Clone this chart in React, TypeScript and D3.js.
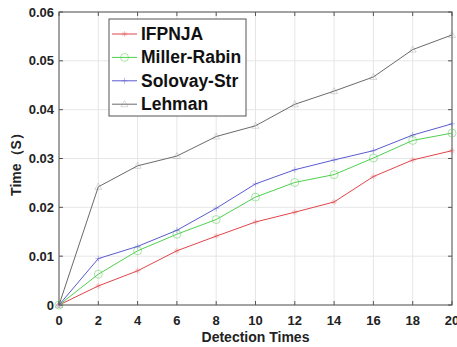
import React from "react";
import * as d3 from "d3";

const xValues = [0, 2, 4, 6, 8, 10, 12, 14, 16, 18, 20];
const ifpnja = [0, 0.0039, 0.007, 0.0111, 0.0141, 0.017, 0.019, 0.0211, 0.0263, 0.0297, 0.0316];
const millerRabin = [0, 0.0063, 0.0111, 0.0145, 0.0175, 0.0221, 0.0251, 0.0267, 0.0301, 0.0337, 0.0352];
const solovay = [0, 0.0095, 0.012, 0.0153, 0.0198, 0.0248, 0.0277, 0.0297, 0.0316, 0.0348, 0.0371];
const lehman = [0, 0.0242, 0.0285, 0.0305, 0.0345, 0.0367, 0.0411, 0.0438, 0.0467, 0.0523, 0.0553];
const seriesNames = ["IFPNJA", "Miller-Rabin", "Solovay-Str", "Lehman"];
const xTicks = [0, 2, 4, 6, 8, 10, 12, 14, 16, 18, 20];
const yTicks = [0, 0.01, 0.02, 0.03, 0.04, 0.05, 0.06];

const W = 457, H = 347;
const L = 59, R = 452, T = 12, B = 305;

const series = [
  { name: seriesNames[0], values: ifpnja, color: "#e0454a", marker: "star" },
  { name: seriesNames[1], values: millerRabin, color: "#4fd04f", marker: "circle" },
  { name: seriesNames[2], values: solovay, color: "#5a5ad0", marker: "plus" },
  { name: seriesNames[3], values: lehman, color: "#6a6a6a", marker: "tri" },
];

function Marker({ type, x, y, color }: { type: string; x: number; y: number; color: string }) {
  const op = 0.5;
  if (type === "circle")
    return <circle cx={x} cy={y} r={4} fill="none" stroke={color} strokeWidth={1} opacity={op} />;
  if (type === "plus")
    return (
      <path d={`M${x - 3},${y}H${x + 3}M${x},${y - 3}V${y + 3}`} stroke={color} strokeWidth={0.8} opacity={op} />
    );
  if (type === "star")
    return (
      <path
        d={`M${x - 3},${y}H${x + 3}M${x},${y - 3}V${y + 3}M${x - 2},${y - 2}L${x + 2},${y + 2}M${x - 2},${y + 2}L${x + 2},${y - 2}`}
        stroke={color}
        strokeWidth={0.6}
        opacity={op}
      />
    );
  return (
    <path d={`M${x},${y - 3.5}L${x + 3.5},${y + 2.5}L${x - 3.5},${y + 2.5}Z`} fill="none" stroke={color} strokeWidth={0.7} opacity={0.35} />
  );
}

export default function App() {
  const x = d3.scaleLinear().domain([0, 20]).range([L, R]);
  const y = d3.scaleLinear().domain([0, 0.06]).range([B, T]);
  const line = d3
    .line<number>()
    .x((_, i) => x(xValues[i]))
    .y((d) => y(d));
  const font = "'Liberation Sans', Arial, sans-serif";
  const legX = 109, legY = 19, legW = 137, legH = 97;
  return (
    <svg
      width={W}
      height={H}
      style={{ position: "absolute", left: 0, top: 0, background: "#fff" }}
      fontFamily={font}
    >
      <rect x={0} y={0} width={W} height={H} fill="#fff" />
      {xTicks.map((t) => (
        <line key={"gx" + t} x1={x(t)} x2={x(t)} y1={T} y2={B} stroke="#e6e6e6" strokeWidth={1} />
      ))}
      {yTicks.map((t) => (
        <line key={"gy" + t} x1={L} x2={R} y1={y(t)} y2={y(t)} stroke="#e6e6e6" strokeWidth={1} />
      ))}
      <rect x={L} y={T} width={R - L} height={B - T} fill="none" stroke="#555" strokeWidth={1} />
      {xTicks.map((t) => (
        <g key={"tx" + t}>
          <line x1={x(t)} x2={x(t)} y1={B} y2={B - 4} stroke="#555" />
          <line x1={x(t)} x2={x(t)} y1={T} y2={T + 4} stroke="#555" />
          <text x={x(t)} y={325} textAnchor="middle" fontSize={13} fontWeight="bold" fill="#222">
            {t}
          </text>
        </g>
      ))}
      {yTicks.map((t) => (
        <g key={"ty" + t}>
          <line x1={L} x2={L + 4} y1={y(t)} y2={y(t)} stroke="#555" />
          <line x1={R} x2={R - 4} y1={y(t)} y2={y(t)} stroke="#555" />
          <text x={54} y={y(t) + 4.5} textAnchor="end" fontSize={13} fontWeight="bold" fill="#222">
            {t === 0 ? "0" : t.toFixed(2)}
          </text>
        </g>
      ))}
      {series.map((s) => (
        <g key={s.name}>
          <path d={line(s.values) || ""} fill="none" stroke={s.color} strokeWidth={1} />
          {s.values.map((v, i) => (
            <Marker key={i} type={s.marker} x={x(xValues[i])} y={y(v)} color={s.color} />
          ))}
        </g>
      ))}
      <rect x={legX} y={legY} width={legW} height={legH} fill="#fff" stroke="#555" strokeWidth={1} />
      {series.map((s, i) => {
        const cy = 34 + i * 23.4;
        return (
          <g key={"leg" + s.name}>
            <line x1={112} x2={137} y1={cy} y2={cy} stroke={s.color} strokeWidth={1} />
            <Marker type={s.marker} x={124.5} y={cy} color={s.color} />
            <text x={141} y={cy + 6} fontSize={17.5} fontWeight="bold" fill="#111">
              {s.name}
            </text>
          </g>
        );
      })}
      <text x={(L + R) / 2} y={342} textAnchor="middle" fontSize={14} fontWeight="bold" fill="#222">
        Detection Times
      </text>
      <text
        transform={`translate(21,161) rotate(-90)`}
        textAnchor="middle"
        fontSize={14}
        fontWeight="bold"
        fill="#222"
      >
        Time（S）
      </text>
    </svg>
  );
}
